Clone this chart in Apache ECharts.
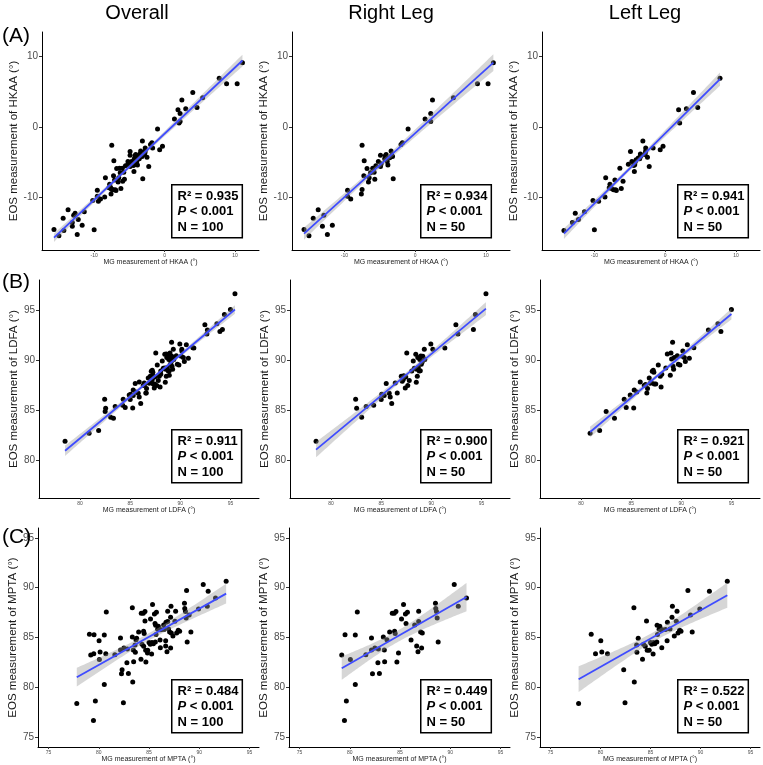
<!DOCTYPE html>
<html>
<head>
<meta charset="utf-8">
<script src="https://cdn.jsdelivr.net/npm/echarts@6/dist/echarts.min.js"></script>
<style>html,body{margin:0;padding:0;background:#fff;}#chart{width:763px;height:765px;}</style>
</head>
<body>
<div id="chart"></div>
<script>
// ---------------- DATA ----------------
const columnTitles = ['Overall', 'Right Leg', 'Left Leg'];
const rowLabels = ['(A)', '(B)', '(C)'];
const measures = ['HKAA', 'LDFA', 'MPTA'];
const tickValues = [[-10, 0, 10], [80, 85, 90, 95], [75, 80, 85, 90, 95]];
const r2Labels = [['0.935', '0.934', '0.941'], ['0.911', '0.900', '0.921'], ['0.484', '0.449', '0.522']];
const pLabel = '< 0.001';
const nLabels = ['100', '50', '50'];

const hkaaRight = [
  [-15.7,-14.5],[-15.0,-15.4],[-14.4,-12.9],[-13.7,-11.7],[-13.1,-14.05],[-12.9,-12.5],[-12.4,-15.2],[-11.7,-13.9],
  [-9.55,-8.95],[-9.55,-9.8],[-9.1,-10.2],[-7.6,-9.5],[-7.5,-8.85],[-7.5,-2.6],[-7.2,-4.8],[-7.25,-6.9],
  [-6.8,-5.9],[-6.6,-7.8],[-6.5,-7.2],[-6.3,-6.5],[-6.0,-5.85],[-5.8,-6.4],[-5.7,-7.4],[-5.55,-5.5],
  [-4.9,-4.0],[-4.9,-5.6],[-4.8,-5.2],[-4.2,-4.1],[-4.1,-3.9],[-4.05,-4.35],[-3.85,-5.4],[-3.95,-4.9],
  [-3.6,-4.35],[-3.4,-3.4],[-3.2,-4.2],[-3.1,-7.35],[-2.0,-2.5],[-1.8,-2.25],[-1.0,-0.3],[1.4,1.1],
  [2.2,0.75],[2.2,1.9],[2.45,3.8],[5.4,4.1],[8.8,6.1],[10.3,6.1],[11.05,9.05],[-4.3,-4.5],[-5.2,-4.9],[-3.3,-4.0]
];
const hkaaLeft = [
  [-14.3,-14.65],[-13.1,-13.5],[-12.7,-12.2],[-12.25,-13.1],[-11.4,-12.0],[-10.2,-10.4],[-10.0,-14.55],[-9.4,-10.5],
  [-8.5,-9.9],[-8.4,-7.2],[-7.8,-8.1],[-7.7,-8.5],[-7.6,-8.7],[-7.3,-8.9],[-7.1,-7.5],[-7.0,-8.9],
  [-6.4,-5.85],[-6.2,-8.7],[-5.95,-7.7],[-5.2,-5.3],[-4.9,-3.5],[-4.7,-4.9],[-4.45,-5.45],[-4.35,-6.3],
  [-4.3,-5.35],[-4.1,-4.65],[-3.8,-4.4],[-3.6,-4.5],[-3.5,-3.85],[-3.45,-4.15],[-3.15,-2.0],[-2.8,-3.7],
  [-2.75,-3.4],[-2.75,-3.0],[-2.5,-4.3],[-2.25,-5.6],[-1.7,-3.0],[-0.7,-3.25],[-0.3,-2.75],[1.9,2.4],
  [2.05,0.55],[3.0,2.55],[4.0,4.85],[4.6,2.75],[7.75,6.85],[-7.9,-8.6],[-3.4,-4.0],[-2.9,-3.9],[-4.2,-4.9],[-6.9,-9.0]
];
const ldfaRight = [
  [78.5,81.9],[82.45,86.1],[82.55,85.2],[83.05,84.3],[83.5,85.37],[84.25,85.5],[85.0,86.07],[85.05,86.6],
  [85.3,86.47],[85.5,87.67],[85.8,86.7],[85.9,86.33],[86.05,85.67],[86.4,87.73],[86.6,86.73],[87.0,88.4],
  [87.1,87.9],[87.2,88.07],[87.4,87.23],[87.45,88.33],[87.55,90.73],[87.65,87.47],[87.8,87.97],[88.05,88.93],
  [88.2,89.93],[88.3,89.2],[88.45,90.6],[88.5,87.8],[88.6,88.4],[88.65,90.27],[88.7,89.27],[88.8,88.93],
  [88.85,90.07],[88.95,90.43],[89.0,89.6],[89.15,90.4],[89.3,91.1],[89.35,90.07],[89.95,91.63],[90.15,91.1],
  [91.35,91.23],[92.45,93.57],[92.65,92.63],[94.2,93.1],[94.4,94.6],[95.45,96.67],[88.55,89.1],[89.1,89.85],[87.25,88.45],[88.9,88.95]
];
const ldfaLeft = [
  [80.9,82.7],[81.85,82.97],[82.5,84.87],[83.33,84.2],[84.3,86.1],[84.5,85.27],[84.9,86.53],[85.25,85.23],
  [85.3,87.03],[85.55,86.83],[85.9,87.83],[86.3,87.47],[86.43,87.57],[86.56,86.73],[86.63,87.17],[86.8,88.23],
  [86.9,87.7],[87.0,87.8],[87.2,89.0],[87.26,88.8],[87.3,87.63],[87.45,87.63],[87.7,89.53],[87.9,88.4],
  [87.98,87.33],[88.05,88.6],[88.45,89.23],[88.6,90.63],[88.9,88.5],[88.97,90.73],[89.03,90.13],[89.13,91.8],
  [89.17,89.4],[89.23,89.1],[89.3,90.27],[89.7,89.6],[89.86,89.53],[90.1,90.4],[90.15,90.93],[90.3,90.27],
  [90.4,89.87],[90.6,91.57],[90.8,90.2],[91.25,91.27],[92.7,93.03],[93.65,93.67],[93.95,92.9],[95.0,95.1],[87.1,88.9],[89.6,90.45]
];
const mptaRight = [
  [79.2,83.24],[79.47,76.65],[79.53,85.28],[79.66,78.63],[80.06,82.8],[80.55,80.28],[80.55,85.25],[80.75,87.57],
  [81.6,83.27],[82.16,84.95],[82.16,83.74],[82.26,81.35],[82.5,83.94],[82.8,82.46],[82.85,83.84],[82.95,81.39],
  [83.34,85.05],[83.44,83.74],[83.47,82.56],[83.7,84.78],[83.97,85.55],[84.23,87.44],[84.43,87.44],[84.46,85.62],
  [84.52,85.39],[84.6,87.6],[84.69,82.53],[84.85,83.44],[85.15,86.86],[85.35,88.31],[85.54,87.37],[85.74,87.54],
  [86.1,84.75],[86.46,86.26],[86.66,84.14],[86.79,83.57],[86.86,86.6],[86.86,87.64],[87.05,85.55],[87.15,83.94],
  [87.22,85.45],[88.53,88.45],[88.56,87.91],[88.63,87.6],[88.7,86.97],[88.8,84.55],[90.4,90.33],[90.8,88.14],[91.62,88.98],[85.6,86.4]
];
const mptaLeft = [
  [77.81,78.38],[79.07,85.32],[79.5,83.38],[80.03,84.68],[80.13,83.54],[80.7,83.38],[82.32,81.77],[82.45,78.45],
  [83.38,80.53],[83.61,84.25],[83.64,83.51],[83.77,84.92],[83.34,87.99],[84.2,82.81],[84.3,84.31],[84.47,84.11],
  [84.6,86.66],[84.67,83.71],[84.87,83.71],[85.0,84.51],[85.13,84.31],[85.26,83.34],[85.43,84.38],[85.63,84.55],
  [85.66,86.23],[85.86,85.82],[85.93,86.12],[86.06,85.79],[86.13,83.98],[86.19,85.79],[86.66,84.68],[86.69,86.52],
  [86.95,85.85],[87.15,87.03],[87.19,88.13],[87.38,85.15],[87.58,86.63],[87.65,87.63],[87.75,85.45],[87.91,85.72],
  [88.05,85.62],[88.74,89.71],[89.0,87.26],[89.17,85.55],[89.93,87.86],[90.89,89.64],[92.68,90.64],[85.3,84.5],[85.7,85.3],[86.5,85.8]
];

// ---------------- LAYOUT ----------------
const FONT = '"Liberation Sans", Arial, sans-serif';
const gridLefts = [[42, 292, 542], [39, 290, 540], [38, 289, 540]];
const gridRights = [259, 510, 760];
const gridTops = [32, 280, 528];
const gridHeights = [218, 218, 219];
const ranges = [
  {x: [-17.4, 13.4], y: [-17.4, 13.4]},
  {x: [75.9, 97.85], y: [76.2, 98.05]},
  {x: [73.95, 95.95], y: [74, 96]}
];
const boxLefts = [171, 420, 677];
const boxTops = [184, 429, 679];
const titleCenters = [137, 391, 645];
const rowLabelY = [36, 282, 537];

const panelData = [
  [hkaaRight.concat(hkaaLeft), hkaaRight, hkaaLeft],
  [ldfaRight.concat(ldfaLeft), ldfaRight, ldfaLeft],
  [mptaRight.concat(mptaLeft), mptaRight, mptaLeft]
];

function fit(pts) {
  const n = pts.length;
  let mx = 0, my = 0;
  pts.forEach(p => { mx += p[0]; my += p[1]; });
  mx /= n; my /= n;
  let sxx = 0, sxy = 0;
  pts.forEach(p => { sxx += (p[0] - mx) ** 2; sxy += (p[0] - mx) * (p[1] - my); });
  const b = sxy / sxx, a = my - b * mx;
  let sse = 0;
  pts.forEach(p => { sse += (p[1] - a - b * p[0]) ** 2; });
  const s = Math.sqrt(sse / (n - 2));
  const t = n > 60 ? 1.9845 : 2.0106;
  const xs = pts.map(p => p[0]);
  const xmin = Math.min(...xs), xmax = Math.max(...xs);
  const band = [];
  const K = 80;
  for (let i = 0; i < K; i++) {
    const x = xmin + (xmax - xmin) * i / (K - 1);
    const yh = a + b * x;
    const se = s * Math.sqrt(1 / n + (x - mx) ** 2 / sxx);
    band.push([x, yh - t * se, yh + t * se]);
  }
  return {line: [[xmin, a + b * xmin], [xmax, a + b * xmax]], band};
}

const grids = [], xAxes = [], yAxes = [], series = [], graphics = [];
for (let r = 0; r < 3; r++) {
  for (let c = 0; c < 3; c++) {
    const gi = r * 3 + c;
    const left = gridLefts[r][c];
    grids.push({left: left, top: gridTops[r], width: gridRights[c] - left, height: gridHeights[r], containLabel: false});
    const ticks = tickValues[r];
    xAxes.push({
      gridIndex: gi, type: 'value', min: ranges[r].x[0], max: ranges[r].x[1],
      axisLine: {show: true, onZero: false, lineStyle: {color: '#000', width: 1}},
      axisTick: {show: true, length: 2, customValues: ticks, lineStyle: {color: '#333', width: 1}},
      axisLabel: {customValues: ticks, fontSize: 5, color: '#4D4D4D', margin: 3, fontFamily: FONT},
      splitLine: {show: false},
      name: 'MG measurement of ' + measures[r] + ' (°)', nameLocation: 'middle', nameGap: 9,
      nameTextStyle: {fontSize: 7, color: '#1a1a1a', fontFamily: FONT}
    });
    yAxes.push({
      gridIndex: gi, type: 'value', min: ranges[r].y[0], max: ranges[r].y[1],
      axisLine: {show: true, onZero: false, lineStyle: {color: '#000', width: 1}},
      axisTick: {show: true, length: 3, customValues: ticks, lineStyle: {color: '#333', width: 1}},
      axisLabel: {customValues: ticks, fontSize: 10, color: '#4D4D4D', margin: 4, fontFamily: FONT},
      splitLine: {show: false},
      name: 'EOS measurement of ' + measures[r] + ' (°)', nameLocation: 'middle', nameGap: 15, nameRotate: 90,
      nameTextStyle: {fontSize: 11.5, color: '#1a1a1a', fontFamily: FONT}
    });
    const pts = panelData[r][c];
    const f = fit(pts);
    series.push({
      type: 'scatter', xAxisIndex: gi, yAxisIndex: gi, data: pts,
      symbolSize: 5, itemStyle: {color: '#000', opacity: 1}, z: 2, silent: true
    });
    const band = f.band;
    series.push({
      type: 'custom', xAxisIndex: gi, yAxisIndex: gi, data: band, z: 3, silent: true,
      encode: {x: 0, y: [1, 2]},
      renderItem: function (params, api) {
        if (params.dataIndex !== 0) return null;
        const up = band.map(p => api.coord([p[0], p[2]]));
        const lo = band.slice().reverse().map(p => api.coord([p[0], p[1]]));
        return {type: 'polygon', shape: {points: up.concat(lo)}, style: {fill: 'rgba(153,153,153,0.4)'}};
      }
    });
    series.push({
      type: 'line', xAxisIndex: gi, yAxisIndex: gi, data: f.line, showSymbol: false, z: 4, silent: true,
      lineStyle: {color: '#3F4CFF', width: 1.8}
    });
    graphics.push({
      type: 'text', left: boxLefts[c], top: boxTops[r], z: 10,
      style: {
        text: '{b|R² = ' + r2Labels[r][c] + '}\n{i|P}{b| ' + pLabel + '}\n{b|N = ' + nLabels[c] + '}',
        rich: {
          b: {fontFamily: FONT, fontWeight: 'bold', fontSize: 13, lineHeight: 15.5, fill: '#000'},
          i: {fontFamily: FONT, fontWeight: 'bold', fontStyle: 'italic', fontSize: 13, lineHeight: 15.5, fill: '#000'}
        },
        backgroundColor: '#fff', borderColor: '#000', borderWidth: 1.5, padding: [3, 3, 2, 5]
      }
    });
  }
}
for (let c = 0; c < 3; c++) {
  graphics.push({type: 'text', x: titleCenters[c], y: 13, z: 10,
    style: {text: columnTitles[c], fontSize: 20, fontFamily: FONT, fill: '#000', textAlign: 'center', textVerticalAlign: 'middle'}});
}
for (let r = 0; r < 3; r++) {
  graphics.push({type: 'text', x: 2, y: rowLabelY[r], z: 10,
    style: {text: rowLabels[r], fontSize: 21, fontFamily: FONT, fill: '#000', textAlign: 'left', textVerticalAlign: 'middle'}});
}

const chart = echarts.init(document.getElementById('chart'), null, {renderer: 'canvas'});
chart.setOption({
  animation: false,
  backgroundColor: '#fff',
  grid: grids, xAxis: xAxes, yAxis: yAxes, series: series, graphic: graphics
});
</script>
</body>
</html>
